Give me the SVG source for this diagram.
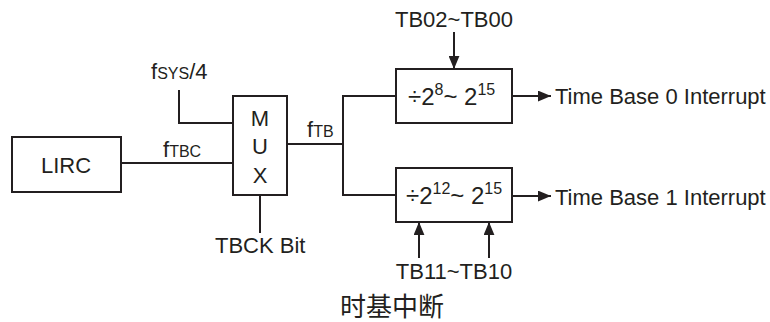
<svg xmlns="http://www.w3.org/2000/svg" width="770" height="322" viewBox="0 0 770 322">
<defs>
<style>
.box{fill:#fff;stroke:#231f20;stroke-width:2}
.ln{fill:none;stroke:#231f20;stroke-width:2}
.t{font-family:"Liberation Sans",Arial,sans-serif;font-size:22px;fill:#231f20}
.d{font-size:24px}
.s{font-size:16px}
.sup{font-size:16px}
.cjk{font-family:"Noto Sans CJK SC","Noto Sans",sans-serif;font-size:26px;fill:#231f20}
</style>
<marker id="ah" viewBox="0 0 12 10" refX="12" refY="5" markerWidth="13" markerHeight="11" markerUnits="userSpaceOnUse" orient="auto">
<path d="M0,0 L12,5 L0,10 Z" fill="#231f20"/>
</marker>
</defs>
<g id="connectors">
<line class="ln" x1="121" y1="163" x2="233" y2="163"/>
<polyline class="ln" points="179,90 179,123 233,123"/>
<line class="ln" x1="260" y1="195" x2="260" y2="233"/>
<polyline class="ln" points="287,144 343,144"/>
<polyline class="ln" points="396,96 343,96 343,195 396,195"/>
<line class="ln" x1="454" y1="32" x2="454" y2="69" marker-end="url(#ah)"/>
<line class="ln" x1="419" y1="258" x2="419" y2="222" marker-end="url(#ah)"/>
<line class="ln" x1="489" y1="258" x2="489" y2="222" marker-end="url(#ah)"/>
<line class="ln" x1="512" y1="96" x2="551" y2="96" marker-end="url(#ah)"/>
<line class="ln" x1="512" y1="196" x2="551" y2="196" marker-end="url(#ah)"/>
</g>
<g id="lirc">
<rect class="box" x="12" y="137" width="109" height="55"/>
<text class="t" x="66" y="173" text-anchor="middle">LIRC</text>
</g>
<g id="mux">
<rect class="box" x="233" y="96" width="54" height="99"/>
<text class="t" x="260" y="126" text-anchor="middle">M</text>
<text class="t" x="260" y="154" text-anchor="middle">U</text>
<text class="t" x="260" y="183" text-anchor="middle">X</text>
</g>
<g id="div0">
<rect class="box" x="396" y="69" width="116" height="54"/>
<text class="t d" x="408" y="105">÷2<tspan class="sup" dy="-10">8</tspan><tspan dy="10">~ 2</tspan><tspan class="sup" dy="-10">15</tspan></text>
</g>
<g id="div1">
<rect class="box" x="396" y="168" width="116" height="54"/>
<text class="t d" x="406" y="204">÷2<tspan class="sup" dy="-10">12</tspan><tspan dy="10">~ 2</tspan><tspan class="sup" dy="-10">15</tspan></text>
</g>
<g id="labels">
<text class="t" x="151" y="79">f<tspan class="s">SYS</tspan>/4</text>
<text class="t" x="163" y="157">f<tspan class="s">TBC</tspan></text>
<text class="t" x="307" y="137">f<tspan class="s">TB</tspan></text>
<text class="t" x="215" y="253">TBCK Bit</text>
<text class="t" x="454" y="27" text-anchor="middle">TB02~TB00</text>
<text class="t" x="454" y="279" text-anchor="middle">TB11~TB10</text>
<text class="t" x="555" y="104">Time Base 0 Interrupt</text>
<text class="t" x="555" y="205">Time Base 1 Interrupt</text>
<text class="cjk" x="392" y="316" text-anchor="middle">时基中断</text>
</g>
</svg>
